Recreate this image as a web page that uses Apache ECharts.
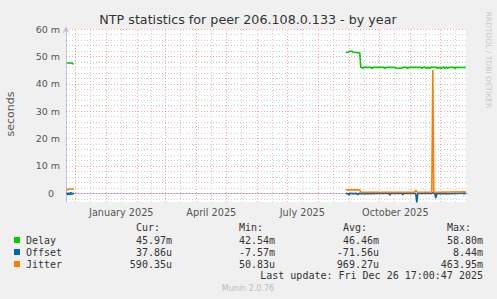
<!DOCTYPE html>
<html>
<head>
<meta charset="utf-8">
<script src="https://cdn.jsdelivr.net/npm/echarts@6/dist/echarts.min.js"></script>
<style>
html,body{margin:0;padding:0;background:#f0f0f0;}
#c{width:497px;height:299px;}
</style>
</head>
<body>
<div id="c"></div>
<script>
// ---------- data ----------
const titleText = 'NTP statistics for peer 206.108.0.133 - by year';
const yAxisName = 'seconds';
const yTickValues = [0, 10, 20, 30, 40, 50, 60];
const xTickDates = ['2025-01-16', '2025-04-16', '2025-07-16', '2025-10-17'];
const xTickLabels = ['January 2025', 'April 2025', 'July 2025', 'October 2025'];
const xRange = ['2024-11-21', '2025-12-26'];
const yRange = [-3.14, 60];

const delayDates = ['2024-11-22','2024-11-23','2024-11-24','2024-11-25','2024-11-26','2024-11-27','2024-11-28','2024-11-29','2025-04-01',
  '2025-08-28','2025-08-30','2025-08-31','2025-09-01','2025-09-03','2025-09-04','2025-09-06','2025-09-08','2025-09-11',
  '2025-09-12','2025-09-13','2025-09-14','2025-09-15','2025-09-22','2025-09-23','2025-09-24','2025-10-05','2025-10-06','2025-10-07',
  '2025-10-16','2025-10-17','2025-10-23','2025-10-24','2025-10-28','2025-10-29','2025-10-30','2025-11-11','2025-11-12','2025-11-13',
  '2025-11-16','2025-11-17','2025-11-18','2025-11-19','2025-11-20','2025-11-21','2025-11-27','2025-11-28','2025-11-29',
  '2025-12-01','2025-12-02','2025-12-03','2025-12-04','2025-12-05','2025-12-06','2025-12-07','2025-12-08','2025-12-09',
  '2025-12-14','2025-12-15','2025-12-16','2025-12-26'];
const delayValues = [47.6,47.6,47.7,47.6,47.6,47.5,47.3,47.2,null,
  51.5,51.4,51.7,51.9,51.9,51.6,51.5,51.4,51.2,
  46.0,46.0,45.6,46.0,46.0,45.6,46.0,46.0,45.6,46.0,
  46.0,45.7,45.7,46.0,46.0,45.6,46.0,46.0,45.6,46.0,
  46.0,45.6,46.0,46.0,45.6,46.0,46.0,45.6,46.0,
  45.7,45.7,46.0,46.0,45.6,46.0,46.0,45.6,46.0,
  46.0,45.6,46.0,45.97];

const offsetDates = ['2024-11-22','2024-11-23','2024-11-24','2024-11-25','2024-11-26','2024-11-27','2024-11-28','2024-11-29','2025-04-01',
  '2025-08-28','2025-08-29','2025-08-30','2025-08-31','2025-09-01','2025-09-05','2025-09-08','2025-09-09','2025-09-10','2025-09-20',
  '2025-09-30','2025-10-10','2025-10-11','2025-10-12','2025-10-23','2025-10-24','2025-10-25','2025-11-05','2025-11-06','2025-11-07',
  '2025-11-08','2025-11-22','2025-11-23','2025-11-24','2025-11-25','2025-11-26','2025-11-27','2025-12-10','2025-12-26'];
const offsetValues = [0.3,-0.6,0.2,-0.5,0.4,-0.4,0.1,-0.3,null,
  0.1,-0.1,0.0,-0.6,0.0,-0.1,0.0,-0.5,0.0,-0.1,
  0.0,0.0,-0.6,0.0,0.0,-0.5,0.0,0.0,-0.3,-3.4,
  0.0,0.0,0.3,0.0,0.0,-1.7,0.0,-0.1,0.04];

const jitterDates = ['2024-11-22','2024-11-23','2024-11-24','2024-11-26','2024-11-29','2025-04-01',
  '2025-08-28','2025-09-11','2025-09-12','2025-11-05','2025-11-06','2025-11-07','2025-11-22','2025-11-23','2025-11-24','2025-12-26'];
const jitterValues = [1.1,1.4,1.6,1.6,1.6,null,
  1.3,1.3,0.4,0.4,1.2,0.5,0.4,45.0,0.4,0.59];

const seriesNames = ['Delay', 'Offset', 'Jitter'];
const seriesColors = ['#00cc00', '#0066b3', '#ff8000'];
const legendHeaders = ['Cur:', 'Min:', 'Avg:', 'Max:'];
const curValues = ['45.97m', '37.86u', '590.35u'];
const minValues = ['42.54m', '-7.57m', '50.83u'];
const avgValues = ['46.46m', '-71.56u', '969.27u'];
const maxValues = ['58.80m', '8.44m', '463.95m'];
const lastUpdate = 'Last update: Fri Dec 26 17:00:47 2025';
const footer = 'Munin 2.0.76';
const sideText = 'RRDTOOL / TOBI OETIKER';

const majorGridY = [0, 10, 20, 30, 40, 50, 60];
const minorGridY = [-2, 2, 4, 6, 8, 12, 14, 16, 18, 22, 24, 26, 28, 32, 34, 36, 38, 42, 44, 46, 48, 52, 54, 56, 58];
const majorGridX = ['2024-12-01','2025-01-01','2025-02-01','2025-03-01','2025-04-01','2025-05-01','2025-06-01',
  '2025-07-01','2025-08-01','2025-09-01','2025-10-01','2025-11-01','2025-12-01'];
const minorGridX = ['2024-12-16','2025-01-16','2025-02-15','2025-03-16','2025-04-16','2025-05-16','2025-06-16',
  '2025-07-16','2025-08-16','2025-09-16','2025-10-16','2025-11-16','2025-12-16'];

// ---------- build ----------
function ts(s, h) {
  const p = s.split('-').map(Number);
  return Date.UTC(p[0], p[1] - 1, p[2], h || 0);
}
function zip(d, v) { return d.map((x, i) => [ts(x, 12), v[i] === null ? '-' : v[i]]); }

const chart = echarts.init(document.getElementById('c'), null, { renderer: 'svg' });

const majorStyle = { color: 'rgba(255,60,60,0.45)', type: [1, 2], width: 1 };
const minorStyle = { color: 'rgba(120,120,120,0.35)', type: [1, 2], width: 1 };
const gridLines = [];
majorGridY.forEach(v => gridLines.push({ yAxis: v, lineStyle: majorStyle }));
minorGridY.forEach(v => gridLines.push({ yAxis: v, lineStyle: minorStyle }));
majorGridX.forEach(v => gridLines.push({ xAxis: ts(v), lineStyle: majorStyle }));
minorGridX.forEach(v => gridLines.push({ xAxis: ts(v), lineStyle: minorStyle }));

const SANS = 'DejaVu Sans';
const MONO = 'DejaVu Sans Mono';
const graphics = [];
function txt(x, y, text, opt) {
  opt = opt || {};
  graphics.push({
    type: 'text', x: x, y: y, rotation: opt.rotation || 0, silent: true,
    style: {
      text: text, fill: opt.fill || '#333',
      font: (opt.size || 10) + 'px "' + (opt.family || MONO) + '"',
      align: opt.align || 'left', textAlign: opt.align || 'left',
      verticalAlign: 'middle', textVerticalAlign: 'middle'
    }
  });
}
txt(248, 19, titleText, { family: SANS, size: 12.7, align: 'center', fill: '#333' });
txt(10, 114, yAxisName, { family: SANS, size: 11, align: 'center', fill: '#555', rotation: Math.PI / 2 });
txt(488, 60, sideText, { family: SANS, size: 7.5, align: 'center', fill: '#c8c8c8', rotation: -Math.PI / 2 });

const headerX = [136, 239, 343, 447];
legendHeaders.forEach((h, i) => txt(headerX[i], 227, h, { fill: '#333' }));
const rowY = [240, 252, 264];
const colRight = [172, 275, 379, 483];
seriesNames.forEach((n, i) => {
  graphics.push({ type: 'rect', silent: true, shape: { x: 14, y: rowY[i] - 3, width: 6, height: 6 }, style: { fill: seriesColors[i] } });
  txt(26, rowY[i], n);
  [curValues, minValues, avgValues, maxValues].forEach((arr, j) => txt(colRight[j], rowY[i], arr[i], { align: 'right' }));
});
txt(483, 275, lastUpdate, { align: 'right' });
txt(248, 288, footer, { family: SANS, size: 8, align: 'center', fill: '#bbb' });

const axisCol = '#c4c4e6';
chart.setOption({
  backgroundColor: '#f0f0f0',
  animation: false,
  grid: { left: 66, right: 31, top: 29, bottom: 97, show: true, backgroundColor: '#ffffff', borderWidth: 0 },
  xAxis: {
    type: 'value', min: ts(xRange[0], 17), max: ts(xRange[1], 17),
    splitLine: { show: false }, axisTick: { show: false },
    axisLine: { show: true, lineStyle: { color: axisCol, width: 1 }, symbol: ['none', 'arrow'], symbolSize: [5, 7], symbolOffset: [0, 3] },
    axisLabel: {
      customValues: xTickDates.map(d => ts(d)),
      formatter: function (v) {
        let best = 0, bd = Infinity;
        xTickDates.forEach((d, i) => { const dd = Math.abs(ts(d) - v); if (dd < bd) { bd = dd; best = i; } });
        return xTickLabels[best];
      },
      color: '#555', fontFamily: SANS, fontSize: 9.7, margin: 5
    }
  },
  yAxis: {
    type: 'value', min: yRange[0], max: yRange[1],
    splitLine: { show: false }, axisTick: { show: false },
    axisLine: { show: true, lineStyle: { color: axisCol, width: 1 }, symbol: ['none', 'arrow'], symbolSize: [5, 7], symbolOffset: [0, 3] },
    axisLabel: {
      customValues: yTickValues,
      formatter: v => (v === 0 ? '0\u00a0\u00a0' : v + ' m'),
      color: '#555', fontFamily: SANS, fontSize: 9.5, margin: 6
    }
  },
  graphic: graphics,
  series: [
    { type: 'line', data: [], z: 1, silent: true,
      markLine: { silent: true, symbol: ['none', 'none'], label: { show: false }, animation: false, data: gridLines } },
    { name: seriesNames[0], type: 'line', data: zip(delayDates, delayValues), showSymbol: false, connectNulls: false, z: 2,
      lineStyle: { color: seriesColors[0], width: 1.6 } },
    { name: seriesNames[1], type: 'line', data: zip(offsetDates, offsetValues), showSymbol: false, connectNulls: false, z: 3,
      lineStyle: { color: seriesColors[1], width: 1.6 } },
    { name: seriesNames[2], type: 'line', data: zip(jitterDates, jitterValues), showSymbol: false, connectNulls: false, z: 4,
      lineStyle: { color: seriesColors[2], width: 1.6 } }
  ]
});
</script>
</body>
</html>
